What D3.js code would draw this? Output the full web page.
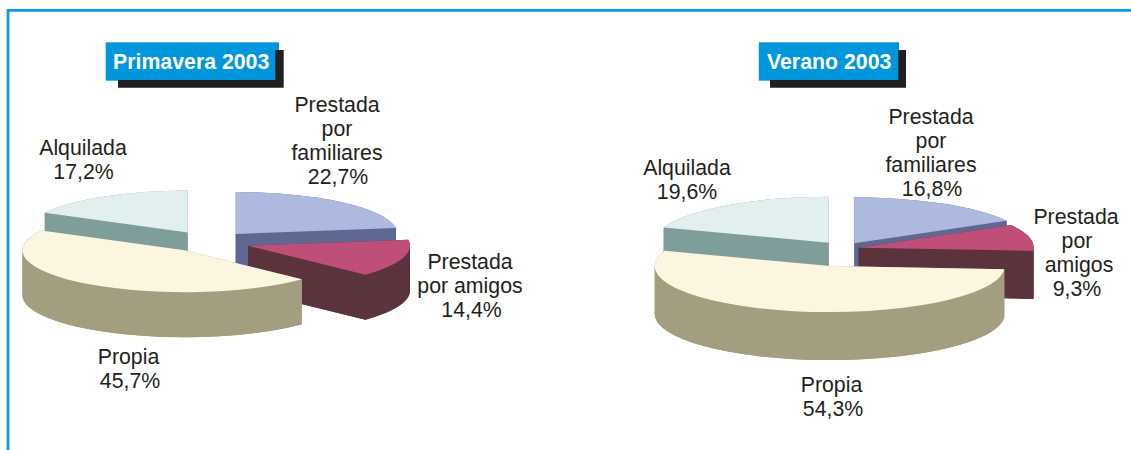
<!DOCTYPE html>
<html>
<head>
<meta charset="utf-8">
<script src="https://cdn.jsdelivr.net/npm/d3@7"></script>
<style>html,body{margin:0;padding:0;background:#fff;overflow:hidden}svg{display:block}</style>
</head>
<body>
<svg id="chart" width="1131" height="450"></svg>
<script>
const categories = ["Prestada por familiares", "Prestada por amigos", "Propia", "Alquilada"];
const primavera2003 = [22.7, 14.4, 45.7, 17.2];
const verano2003 = [16.8, 9.3, 54.3, 19.6];
const titles = ["Primavera 2003", "Verano 2003"];

const topColors = ["#adb9de", "#bf4e78", "#fcf5df", "#e1f0ee"];
const sideColors = ["#5f6893", "#5b333d", "#a39e80", "#7f9e9b"];
const drawOrder = [0, 3, 1, 2];
const ink = "#231f20", blue = "#0096db";

const layouts = [
  {
    values: primavera2003, title: titles[0], rx: 162, ry: 42, depth: 45,
    centers: [[235.7, 234], [248, 245.7], [184.4, 250.3], [187.7, 232.5]],
    box: { x: 105.7, y: 42.3, w: 173.3, h: 38.4, left: 118, right: 283.7, inner: 275.3, sy: 50, barTop: 80, bottom: 87.8, tx: 113, ty: 69 },
    labels: [
      { x: 337, y: 112, lines: ["Prestada", "por", "familiares", "22,7%"], dx: [0, 0, 0, 1] },
      { x: 470, y: 269, lines: ["Prestada", "por amigos", "14,4%"], dx: [0, 0, 1.5] },
      { x: 129, y: 364, lines: ["Propia", "45,7%"], dx: [-0.5, 1] },
      { x: 83, y: 155, lines: ["Alquilada", "17,2%"], dx: [0, 0.5] }
    ]
  },
  {
    values: verano2003, title: titles[1], rx: 175, ry: 46, depth: 48,
    centers: [[854.3, 243.3], [858.7, 247.7], [829.7, 266.1], [828.7, 242.7]],
    box: { x: 758.8, y: 42.3, w: 140.2, h: 38.4, left: 770, right: 906, inner: 898.3, sy: 50, barTop: 80, bottom: 87.8, tx: 767, ty: 69 },
    labels: [
      { x: 931, y: 124, lines: ["Prestada", "por", "familiares", "16,8%"], dx: [0, 0, 0, 1] },
      { x: 1076, y: 224, lines: ["Prestada", "por", "amigos", "9,3%"], dx: [0, 1, 3, 1] },
      { x: 832, y: 392, lines: ["Propia", "54,3%"], dx: [-0.5, 1] },
      { x: 687, y: 175, lines: ["Alquilada", "19,6%"], dx: [0, 0] }
    ]
  }
];

const svg = d3.select("#chart");
const font = "'Liberation Sans', Arial, sans-serif";

// frame
svg.append("path")
  .attr("d", "M8,450V10.4H1131")
  .attr("fill", "none").attr("stroke", "#0a9bdc").attr("stroke-width", 2.8);

const pie = d3.pie().value(d => d).sort(null);

// Extrude an arc downward. The rim is split where it turns in x, and each piece
// becomes its own path so that overlapping windings cannot cancel out.
function bandPaths(r, d, a0, a1) {
  const stops = [a0];
  for (let m = Math.ceil(a0 / Math.PI); m * Math.PI < a1; m++) {
    if (m * Math.PI > a0) stops.push(m * Math.PI);
  }
  stops.push(a1);
  return d3.pairs(stops).map(([s, e]) => {
    const p = d3.path();
    p.moveTo(r * Math.cos(s), r * Math.sin(s));
    p.arc(0, 0, r, s, e, false);
    p.lineTo(r * Math.cos(e), r * Math.sin(e) + d);
    p.arc(0, d, r, e, s, true);
    p.closePath();
    return p.toString();
  });
}

function faceD(r, d, a) {
  const x = r * Math.cos(a), y = r * Math.sin(a);
  return `M0,0L${x},${y}L${x},${y + d}L0,${d}Z`;
}

layouts.forEach(cfg => {
  const arcs = pie(cfg.values);
  const arc = d3.arc().innerRadius(0).outerRadius(cfg.rx);
  const k = cfg.ry / cfg.rx;
  const d = cfg.depth / k;
  const r = cfg.rx;

  drawOrder.forEach(i => {
    const a = arcs[i];
    const [cx, cy] = cfg.centers[i];
    const g = svg.append("g")
      .attr("transform", `translate(${cx},${cy}) scale(1,${k})`);
    const a0 = a.startAngle - Math.PI / 2, a1 = a.endAngle - Math.PI / 2;

    g.append("path").attr("d", arc(a)).attr("transform", `translate(0,${d})`).attr("fill", sideColors[i]);
    bandPaths(r, d, a0, a1).forEach(b => g.append("path").attr("d", b).attr("fill", sideColors[i]));
    g.append("path").attr("d", faceD(r, d, a0)).attr("fill", sideColors[i]);
    g.append("path").attr("d", faceD(r, d, a1)).attr("fill", sideColors[i]);
    g.append("path").attr("d", arc(a)).attr("fill", topColors[i]);
  });

  // title box with L-shaped shadow bars
  const b = cfg.box;
  svg.append("rect").attr("x", b.x).attr("y", b.y).attr("width", b.w).attr("height", b.h).attr("fill", blue);
  svg.append("path")
    .attr("d", `M${b.inner},${b.sy}H${b.right}V${b.bottom}H${b.left}V${b.barTop}H${b.inner}Z`)
    .attr("fill", ink);
  svg.append("text").attr("x", b.tx).attr("y", b.ty)
    .attr("font-family", font).attr("font-size", 21.3).attr("font-weight", "bold")
    .attr("fill", "#fff").text(cfg.title);

  // labels
  cfg.labels.forEach(l => {
    const t = svg.append("text").attr("font-family", font).attr("font-size", 21.3)
      .attr("fill", ink).attr("text-anchor", "middle");
    l.lines.forEach((line, n) => {
      t.append("tspan").attr("x", l.x + l.dx[n]).attr("y", l.y + n * 24).text(line);
    });
  });
});
</script>
</body>
</html>
